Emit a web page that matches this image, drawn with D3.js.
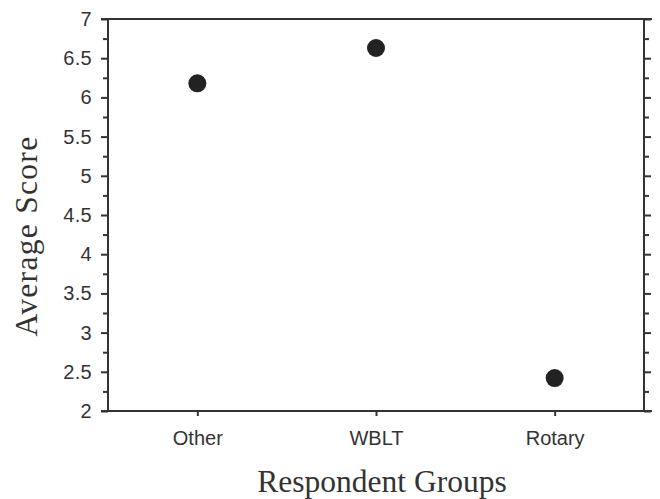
<!DOCTYPE html>
<html>
<head>
<meta charset="utf-8">
<script src="https://cdn.jsdelivr.net/npm/d3@7"></script>
<style>
  html, body { margin: 0; padding: 0; background: #fff; }
  svg { display: block; }
</style>
</head>
<body>
<svg id="chart" width="660" height="499"></svg>
<script>
// Average score for each respondent group
const categories = ["Other", "WBLT", "Rotary"];
const scores = [6.18, 6.63, 2.42];
const yTicks = [2, 2.5, 3, 3.5, 4, 4.5, 5, 5.5, 6, 6.5, 7];
const yMinorTicks = [2.25, 2.75, 3.25, 3.75, 4.25, 4.75, 5.25, 5.75, 6.25, 6.75];
const xTitle = "Respondent Groups";
const yTitle = "Average Score";

(function draw() {
  const svg = d3.select("#chart");
  const mLeft = 108, mRight = 644, mTop = 19, mBottom = 411;
  const ink = "#333";

  const x = d3.scalePoint().domain(categories).range([mLeft, mRight]).padding(0.5);
  const y = d3.scaleLinear().domain([2, 7]).range([mBottom, mTop]);

  const tickFont = "'Liberation Sans', Arial, sans-serif";
  const titleFont = "'Liberation Serif', 'Times New Roman', serif";

  // Left axis with labels and major ticks
  const yAxis = svg.append("g")
    .attr("transform", `translate(${mLeft},0)`)
    .call(d3.axisLeft(y).tickValues(yTicks).tickSize(7).tickPadding(9)
      .tickFormat(d3.format("~g")));
  yAxis.select(".domain").remove();
  yAxis.selectAll("line").attr("stroke", ink).attr("stroke-width", 2);
  yAxis.selectAll("text").attr("fill", ink).style("font-family", tickFont)
    .style("font-size", "20px").style("letter-spacing", "0.3px");

  // Left minor ticks
  svg.append("g")
    .attr("transform", `translate(${mLeft},0)`)
    .call(d3.axisLeft(y).tickValues(yMinorTicks).tickSize(5).tickFormat(""))
    .call(g => g.select(".domain").remove())
    .selectAll("line").attr("stroke", ink).attr("stroke-width", 2);

  // Right axis ticks pointing outward
  svg.append("g")
    .attr("transform", `translate(${mRight},0)`)
    .call(d3.axisRight(y).tickValues(yTicks).tickSize(7).tickFormat(""))
    .call(g => g.select(".domain").remove())
    .selectAll("line").attr("stroke", ink).attr("stroke-width", 2);
  svg.append("g")
    .attr("transform", `translate(${mRight},0)`)
    .call(d3.axisRight(y).tickValues(yMinorTicks).tickSize(5).tickFormat(""))
    .call(g => g.select(".domain").remove())
    .selectAll("line").attr("stroke", ink).attr("stroke-width", 2);

  // Bottom axis with category labels
  const xAxis = svg.append("g")
    .attr("transform", `translate(0,${mBottom})`)
    .call(d3.axisBottom(x).tickSize(5).tickPadding(15));
  xAxis.select(".domain").remove();
  xAxis.selectAll("line").attr("stroke", ink).attr("stroke-width", 2);
  xAxis.selectAll("text").attr("fill", ink).style("font-family", tickFont)
    .style("font-size", "20px");

  // Frame
  const frame = svg.append("g").attr("stroke", ink).attr("stroke-width", 2).attr("fill", "none");
  frame.append("line").attr("x1", mLeft - 7).attr("x2", mRight + 8).attr("y1", mTop).attr("y2", mTop);
  frame.append("line").attr("x1", mLeft - 7).attr("x2", mRight + 8).attr("y1", mBottom).attr("y2", mBottom);
  frame.append("line").attr("x1", mLeft).attr("x2", mLeft).attr("y1", mTop).attr("y2", mBottom);
  frame.append("line").attr("x1", mRight).attr("x2", mRight).attr("y1", mTop).attr("y2", mBottom);

  // Points
  svg.append("g").selectAll("circle")
    .data(categories.map((c, i) => ({ c, v: scores[i] })))
    .join("circle")
    .attr("cx", d => x(d.c))
    .attr("cy", d => y(d.v))
    .attr("r", 9)
    .attr("fill", "#222");

  // Axis titles
  svg.append("text")
    .attr("x", 382).attr("y", 492)
    .attr("text-anchor", "middle")
    .attr("fill", ink)
    .style("font-family", titleFont).style("font-size", "31.5px")
    .text(xTitle);

  svg.append("text")
    .attr("transform", `translate(37,236) rotate(-90)`)
    .attr("text-anchor", "middle")
    .attr("fill", ink)
    .style("font-family", titleFont).style("font-size", "31.5px")
    .style("letter-spacing", "1.3px")
    .text(yTitle);
})();
</script>
</body>
</html>
